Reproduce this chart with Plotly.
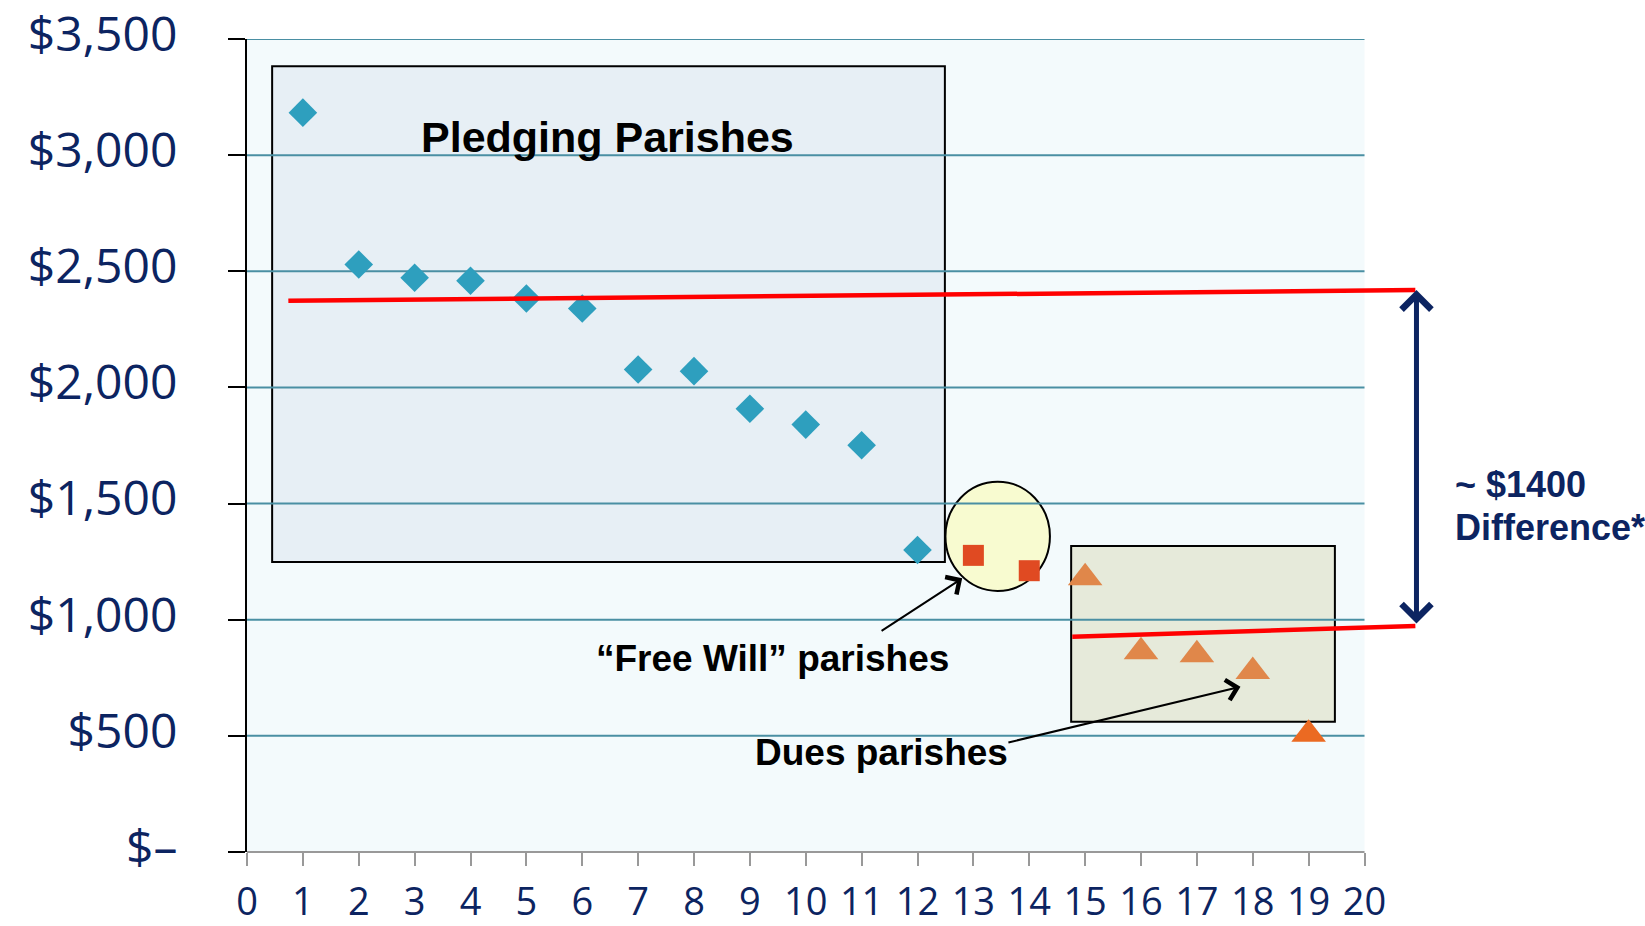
import plotly.graph_objects as go

# ---------------- data ----------------
parish_pledging = [1, 2, 3, 4, 5, 6, 7, 8, 9, 10, 11, 12]
gift_pledging = [3183, 2529, 2472, 2459, 2383, 2340, 2077, 2070, 1908, 1840, 1751, 1300]

parish_free_will = [13, 14]
gift_free_will = [1277, 1211]

parish_dues = [15, 16, 17, 18, 19]
gift_dues = [1181, 862, 849, 777, 507]

trend_pledging_x = [0.74, 20.91]
trend_pledging_y = [2373, 2419]
trend_dues_x = [14.77, 20.91]
trend_dues_y = [927, 973]

y_tick_values = [0, 500, 1000, 1500, 2000, 2500, 3000, 3500]
y_tick_labels = ["$\u2013", "$500", "$1,000", "$1,500", "$2,000", "$2,500", "$3,000", "$3,500"]
x_tick_values = list(range(0, 21))
x_tick_labels = [str(v) for v in x_tick_values]

# ---------------- styling / layout constants ----------------
NAVY = "#0C2461"
GRID = "#4A8FA3"
TEAL = "#2E9FBE"
SQUARE_RED = "#E04A22"
TRI_IN = "#E0874A"
TRI_OUT = "#EB6A22"
X_END = 20      # end of the chart region
X_MAX = 25.02   # axis extends to the page edge so the right-hand annotations share the scale

PLEDGE_BOX = dict(x0=0.45, x1=12.49, y0=1249, y1=3383)
FREE_WILL_CIRCLE = dict(x0=12.50, x1=14.37, y0=1124, y1=1594)
DUES_BOX = dict(x0=14.75, x1=19.47, y0=561, y1=1317)


def inside(box, x, y):
    return box["x0"] <= x <= box["x1"] and box["y0"] <= y <= box["y1"]


tri_colors = [TRI_IN if inside(DUES_BOX, x, y) else TRI_OUT for x, y in zip(parish_dues, gift_dues)]

fig = go.Figure()

fig.add_trace(go.Scatter(
    x=parish_pledging, y=gift_pledging, mode="markers",
    marker=dict(symbol="diamond", size=22, color=TEAL, line=dict(width=0)),
    showlegend=False, hoverinfo="x+y"))
fig.add_trace(go.Scatter(
    x=parish_free_will, y=gift_free_will, mode="markers",
    marker=dict(symbol="square", size=21, color=SQUARE_RED, line=dict(width=0)),
    showlegend=False, hoverinfo="x+y"))
fig.add_trace(go.Scatter(
    x=parish_dues, y=gift_dues, mode="markers",
    marker=dict(symbol="triangle-up", size=30, color=tri_colors, line=dict(width=0)),
    showlegend=False, hoverinfo="x+y"))

fig.add_trace(go.Scatter(
    x=trend_pledging_x, y=trend_pledging_y, mode="lines",
    line=dict(color="#FF0000", width=4.5), showlegend=False, hoverinfo="skip"))
fig.add_trace(go.Scatter(
    x=trend_dues_x, y=trend_dues_y, mode="lines",
    line=dict(color="#FF0000", width=4.5), showlegend=False, hoverinfo="skip"))

shapes = [
    # chart background for the 0-20 region
    dict(type="rect", xref="x", yref="y", layer="below", fillcolor="#F3FAFC",
         line=dict(width=0), x0=0, x1=X_END, y0=0, y1=3500),
    dict(type="rect", xref="x", yref="y", layer="below", fillcolor="#E7EFF5",
         line=dict(color="black", width=2), **PLEDGE_BOX),
    dict(type="circle", xref="x", yref="y", layer="below", fillcolor="#F8FBD0",
         line=dict(color="black", width=2), **FREE_WILL_CIRCLE),
    dict(type="rect", xref="x", yref="y", layer="below", fillcolor="#E6EADA",
         line=dict(color="black", width=2), **DUES_BOX),
]
# horizontal gridlines, limited to the 0-20 region
for v in y_tick_values[1:]:
    shapes.append(dict(type="line", xref="x", yref="y", layer="below",
                       line=dict(color=GRID, width=2), x0=0, x1=X_END, y0=v, y1=v))
# grey x axis line from 0 to 20
shapes.append(dict(type="line", xref="x", yref="paper", layer="above",
                   line=dict(color="#999999", width=2), x0=0, x1=X_END, y0=0, y1=0))

LABEL_FONT = dict(family="Liberation Sans, Arial, sans-serif", color="black", weight="bold")
NAVY_FONT = dict(family="Liberation Sans, Arial, sans-serif", color=NAVY, weight="bold")

annotations = [
    dict(x=6.46, y=3077, xref="x", yref="y", text="Pledging Parishes", showarrow=False,
         xanchor="center", yanchor="middle", font=dict(size=43, **LABEL_FONT)),
    dict(x=9.41, y=833, xref="x", yref="y", text="\u201cFree Will\u201d parishes", showarrow=False,
         xanchor="center", yanchor="middle", font=dict(size=37, **LABEL_FONT)),
    dict(x=11.36, y=427, xref="x", yref="y", text="Dues parishes", showarrow=False,
         xanchor="center", yanchor="middle", font=dict(size=37, **LABEL_FONT)),
    dict(x=21.58, y=1584, xref="x", yref="y", text="~ $1400", showarrow=False,
         xanchor="left", yanchor="middle", font=dict(size=36, **NAVY_FONT)),
    dict(x=21.58, y=1396, xref="x", yref="y", text="Difference*", showarrow=False,
         xanchor="left", yanchor="middle", font=dict(size=36, **NAVY_FONT)),
    # callout arrows
    dict(x=12.80, y=1178, ax=11.33, ay=948, xref="x", yref="y", axref="x", ayref="y",
         text="", showarrow=True, arrowhead=4, arrowsize=2, arrowwidth=2,
         arrowcolor="black", standoff=0, startstandoff=0),
    dict(x=17.78, y=711, ax=13.60, ay=470, xref="x", yref="y", axref="x", ayref="y",
         text="", showarrow=True, arrowhead=4, arrowsize=2, arrowwidth=2,
         arrowcolor="black", standoff=0, startstandoff=0),
    # double-headed difference arrow
    dict(x=20.93, y=2419, ax=20.93, ay=977, xref="x", yref="y", axref="x", ayref="y",
         text="", showarrow=True, arrowside="end+start", arrowhead=4, startarrowhead=4,
         arrowsize=1.15, startarrowsize=1.15, arrowwidth=5, arrowcolor=NAVY,
         standoff=0, startstandoff=0),
]

fig.update_layout(
    width=1645, height=926,
    margin=dict(l=247, r=0, t=39, b=74, pad=0),
    plot_bgcolor="white", paper_bgcolor="white",
    shapes=shapes, annotations=annotations,
    showlegend=False,
    xaxis=dict(
        range=[0, X_MAX], tickmode="array", tickvals=x_tick_values, ticktext=x_tick_labels,
        ticks="outside", ticklen=13, tickwidth=2, tickcolor="#999999",
        showgrid=False, zeroline=False, showline=False, automargin=False,
        tickfont=dict(family="Open Sans, sans-serif", size=38, color=NAVY),
        ticklabelstandoff=3, ticklabeloverflow="allow",
    ),
    yaxis=dict(
        range=[0, 3500], tickmode="array", tickvals=y_tick_values, ticktext=y_tick_labels,
        ticks="outside", ticklen=17, tickwidth=2, tickcolor="black",
        showline=True, linecolor="black", linewidth=2,
        showgrid=False, zeroline=False, automargin=False,
        tickfont=dict(family="Open Sans, sans-serif", size=48, color=NAVY),
        ticklabelstandoff=41, ticklabelshift=-5, ticklabeloverflow="allow",
    ),
)

fig.write_html("out.html", config={"displayModeBar": False},
               post_script="document.body.style.margin='0';document.body.style.overflow='hidden';")
